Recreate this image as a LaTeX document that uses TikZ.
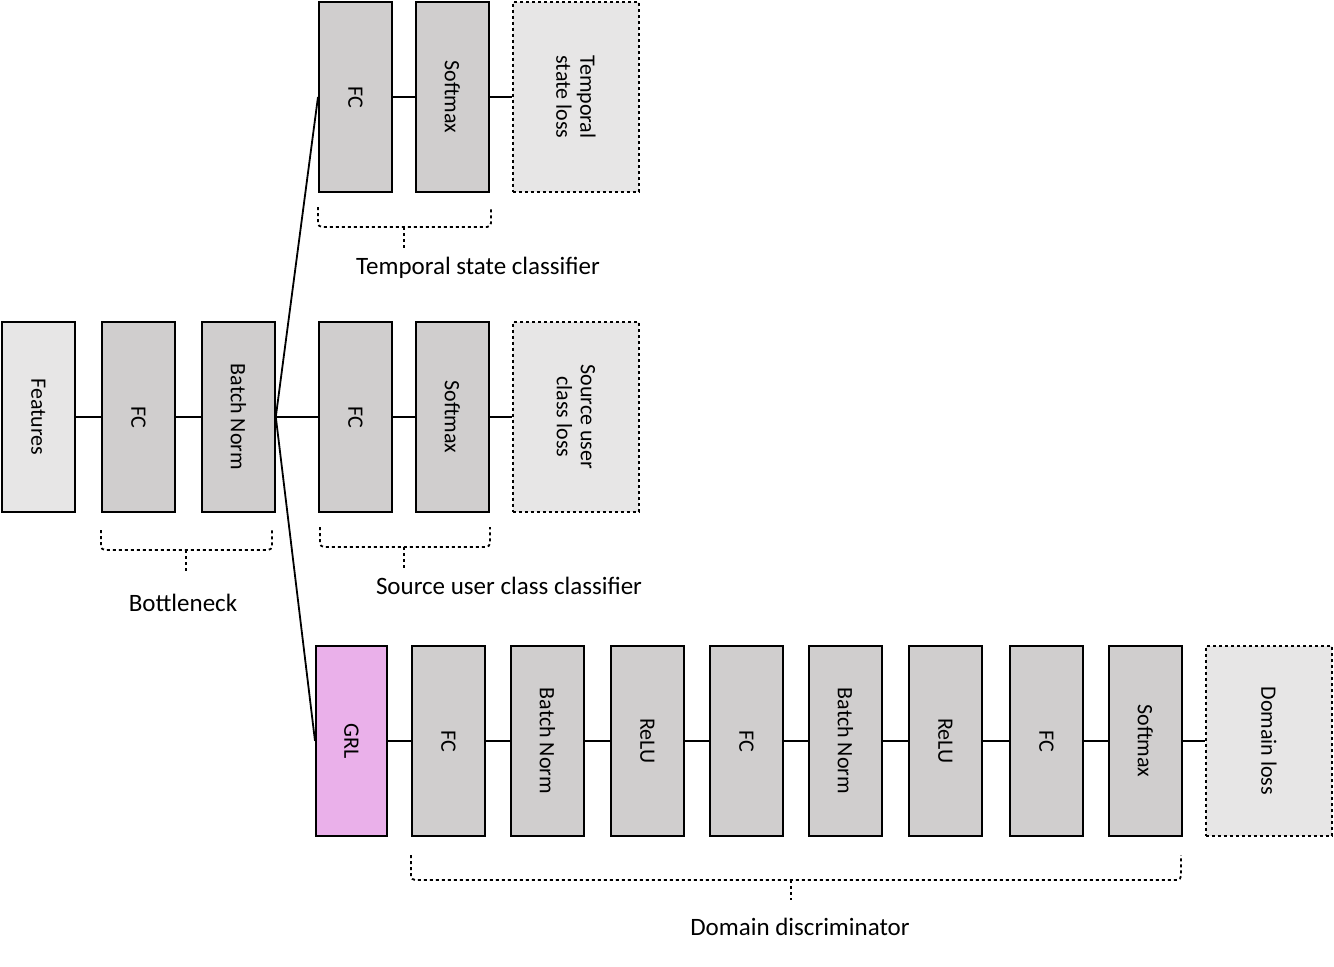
\documentclass[tikz,border=0pt]{standalone}
\usepackage{fontspec}
\setmainfont{Carlito}
\begin{document}
\begin{tikzpicture}[x=1pt,y=-1pt,
  blk/.style={draw=black,line width=1.8pt,fill=boxgray,minimum width=73pt,minimum height=190pt,anchor=north west,inner sep=0pt},
  lossb/.style={draw=black,line width=1.8pt,dashed,fill=lossgray,minimum width=126pt,minimum height=190pt,anchor=north west,inner sep=0pt},
  txt/.style={rotate=-90,font=\fontsize{22}{24}\selectfont,align=center},
  lbl/.style={font=\fontsize{25}{28}\selectfont},
  con/.style={line width=1.8pt},
  brc/.style={line width=1.8pt,dashed,rounded corners=4pt}]
\definecolor{boxgray}{HTML}{D0CECE}
\definecolor{lossgray}{HTML}{E7E6E6}
\definecolor{grlpink}{HTML}{EAB0EA}
\useasboundingbox (0,0) rectangle (1334,967);
% bottleneck
\node[blk,fill=lossgray] (feat) at (1,321) {}; \node[txt] at (feat.center) {Features};
\node[blk] (fc0) at (101,321) {}; \node[txt] at (fc0.center) {FC};
\node[blk] (bn0) at (201,321) {}; \node[txt] at (bn0.center) {Batch Norm};
% top
\node[blk] (fc1) at (318,1) {}; \node[txt] at (fc1.center) {FC};
\node[blk] (sm1) at (415,1) {}; \node[txt] at (sm1.center) {Softmax};
\node[lossb] (l1) at (512,1) {}; \node[txt] at (l1.center) {Temporal\\state loss};
% middle
\node[blk] (fc2) at (318,321) {}; \node[txt] at (fc2.center) {FC};
\node[blk] (sm2) at (415,321) {}; \node[txt] at (sm2.center) {Softmax};
\node[lossb] (l2) at (512,321) {}; \node[txt] at (l2.center) {Source user\\class loss};
% bottom
\node[blk,fill=grlpink,minimum width=71pt] (grl) at (315,645) {}; \node[txt] at (grl.center) {GRL};
\node[blk] (d1) at (411,645) {}; \node[txt] at (d1.center) {FC};
\node[blk] (d2) at (510,645) {}; \node[txt] at (d2.center) {Batch Norm};
\node[blk] (d3) at (610,645) {}; \node[txt] at (d3.center) {ReLU};
\node[blk] (d4) at (709,645) {}; \node[txt] at (d4.center) {FC};
\node[blk] (d5) at (808,645) {}; \node[txt] at (d5.center) {Batch Norm};
\node[blk] (d6) at (908,645) {}; \node[txt] at (d6.center) {ReLU};
\node[blk] (d7) at (1009,645) {}; \node[txt] at (d7.center) {FC};
\node[blk] (d8) at (1108,645) {}; \node[txt] at (d8.center) {Softmax};
\node[lossb] (l3) at (1205,645) {}; \node[txt] at (l3.center) {Domain loss};
% connectors
\draw[con] (feat.east) -- (fc0.west);
\draw[con] (fc0.east) -- (bn0.west);
\draw[con] (bn0.east) -- (fc2.west);
\draw[con] (bn0.east) -- (fc1.west);
\draw[con] (bn0.east) -- (grl.west);
\draw[con] (fc1.east) -- (sm1.west); \draw[con] (sm1.east) -- (l1.west);
\draw[con] (fc2.east) -- (sm2.west); \draw[con] (sm2.east) -- (l2.west);
\draw[con] (grl.east) -- (d1.west);
\foreach \a/\b in {d1/d2,d2/d3,d3/d4,d4/d5,d5/d6,d6/d7,d7/d8,d8/l3} \draw[con] (\a.east) -- (\b.west);
% braces
\draw[brc] (101,530) -- (101,550) -- (272,550) -- (272,530);
\draw[brc,rounded corners=0] (186,550) -- (186,572);
\node[lbl] (bl) at (183,603) {Bottleneck};
\draw[brc] (318,207) -- (318,227) -- (491,227) -- (491,207);
\draw[brc,rounded corners=0] (404,227) -- (404,248);
\node[lbl] (tl) at (478,268) {Temporal state classifier};
\draw[brc] (320,527) -- (320,547) -- (490,547) -- (490,527);
\draw[brc,rounded corners=0] (404,547) -- (404,568);
\node[lbl] (sl) at (509,586) {Source user class classifier};
\draw[brc] (411,855) -- (411,880) -- (1181,880) -- (1181,855);
\draw[brc,rounded corners=0] (791,880) -- (791,900);
\node[lbl] (dl) at (800,927) {Domain discriminator};
\end{tikzpicture}
\end{document}
